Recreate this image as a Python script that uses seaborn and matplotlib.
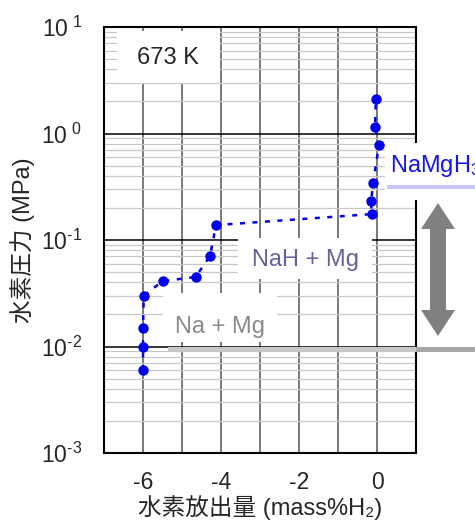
import numpy as np
import pandas as pd
from matplotlib import pyplot as plt
from matplotlib.patches import Rectangle, Polygon
import seaborn as sns

# hydrogen released (mass%H2) and hydrogen pressure (MPa), 673 K desorption
released = [-6.0, -6.0, -6.0, -5.98, -5.5, -4.65, -4.28, -4.13,
            -0.14, -0.15, -0.10, 0.05, -0.05, -0.03]
pressure = [0.006, 0.010, 0.015, 0.030, 0.041, 0.045, 0.071, 0.138,
            0.175, 0.232, 0.343, 0.78, 1.15, 2.1]
xticks = [-6, -4, -2, 0]
yticks = [1e-3, 1e-2, 1e-1, 1e0, 1e1]
ytick_labels = ['10$^{\\text{-}3}$', '10$^{\\text{-}2}$', '10$^{\\text{-}1}$',
                '10$^{\\ 0}$', '10$^{\\ 1}$']

df = pd.DataFrame({'released': released, 'pressure': pressure})

sns.set_style('white')
plt.rcParams['font.family'] = ['Liberation Sans', 'Noto Sans CJK JP']
plt.rcParams['mathtext.fontset'] = 'custom'
plt.rcParams['mathtext.rm'] = 'Liberation Sans'
plt.rcParams['mathtext.it'] = 'Liberation Sans'
plt.rcParams['mathtext.default'] = 'regular'

W, H = 475, 522
fig = plt.figure(figsize=(W / 100, H / 100), dpi=100)
ax = fig.add_axes([104 / W, 1 - 453 / H, (416 - 104) / W, (453 - 27) / H])


def fx(x):
    return x / W


def fy(y):
    return 1 - y / H


def box(x0, y0, x1, y1, color='white', z=5):
    fig.patches.append(Rectangle((fx(x0), fy(y1)), fx(x1) - fx(x0), fy(y0) - fy(y1),
                                 transform=fig.transFigure, facecolor=color,
                                 edgecolor='none', zorder=z))


sns.lineplot(data=df, x='released', y='pressure', sort=False, estimator=None,
             color='#0000ee', lw=1.8, linestyle=(0, (2, 3)), marker='o',
             markersize=7.5, markeredgewidth=0, ax=ax, zorder=4)

ax.set_yscale('log')
ax.set_xlim(-7, 1)
ax.set_ylim(1e-3, 1e1)
ax.set_xticks(xticks)
ax.set_xticklabels([str(t) for t in xticks])
ax.set_yticks(yticks)
ax.set_yticklabels(ytick_labels)
ax.minorticks_off()
ax.tick_params(axis='both', which='both', length=0, labelsize=16.5)
ax.tick_params(axis='x', pad=13)
ax.tick_params(axis='y', pad=16)

# grid
ax.grid(False)
for v in range(-6, 1):
    ax.axvline(v, color='#6e6e6e', lw=1.3, zorder=1)
for d in range(-3, 1):
    for k in range(2, 10):
        ax.axhline(k * 10.0 ** d, color='#c8c8c8', lw=0.9, zorder=1)
for d in range(-2, 1):
    ax.axhline(10.0 ** d, color='black', lw=1.1, zorder=2)
for s in ax.spines.values():
    s.set_color('black')
    s.set_linewidth(1.5)
    s.set_visible(True)

ax.set_xlabel('水素放出量 (mass%H₂)', fontsize=17, labelpad=1)
ax.set_ylabel('水素圧力 (MPa)', fontsize=17, labelpad=4)

# label boxes
box(117, 31, 220, 83)
fig.text(fx(168), fy(58), '673 K', fontsize=17, ha='center', va='center', zorder=6)

box(238, 238, 372, 279)
fig.text(fx(305), fy(260), 'NaH + Mg', fontsize=17, color='#64649a',
         ha='center', va='center', zorder=6)

box(163, 293, 277, 342)
fig.text(fx(220), fy(327), 'Na + Mg', fontsize=17, color='#8a8a8a',
         ha='center', va='center', zorder=6)

box(385, 143, 475, 200)
fig.text(fx(390), fy(166), 'NaMgH$_3$', fontsize=17, color='#1515ee',
         ha='left', va='center', zorder=6)
box(387, 185, 475, 189, color='#c6c6f4', z=6)

# phase bars
box(168, 347, 416, 352, color='#c8c8c8', z=3)
box(416, 347, 475, 352, color='#a8a8a8', z=3)

# double arrow
cx, top, bot, hw, hl, sw = 438, 203, 336, 17, 26, 8
pts = [(cx, top), (cx + hw, top + hl), (cx + sw, top + hl), (cx + sw, bot - hl),
       (cx + hw, bot - hl), (cx, bot), (cx - hw, bot - hl), (cx - sw, bot - hl),
       (cx - sw, top + hl), (cx - hw, top + hl)]
fig.patches.append(Polygon([(fx(a), fy(b)) for a, b in pts], closed=True,
                           transform=fig.transFigure, facecolor='#808080',
                           edgecolor='none', zorder=5))

plt.savefig('out.png', dpi=100)
